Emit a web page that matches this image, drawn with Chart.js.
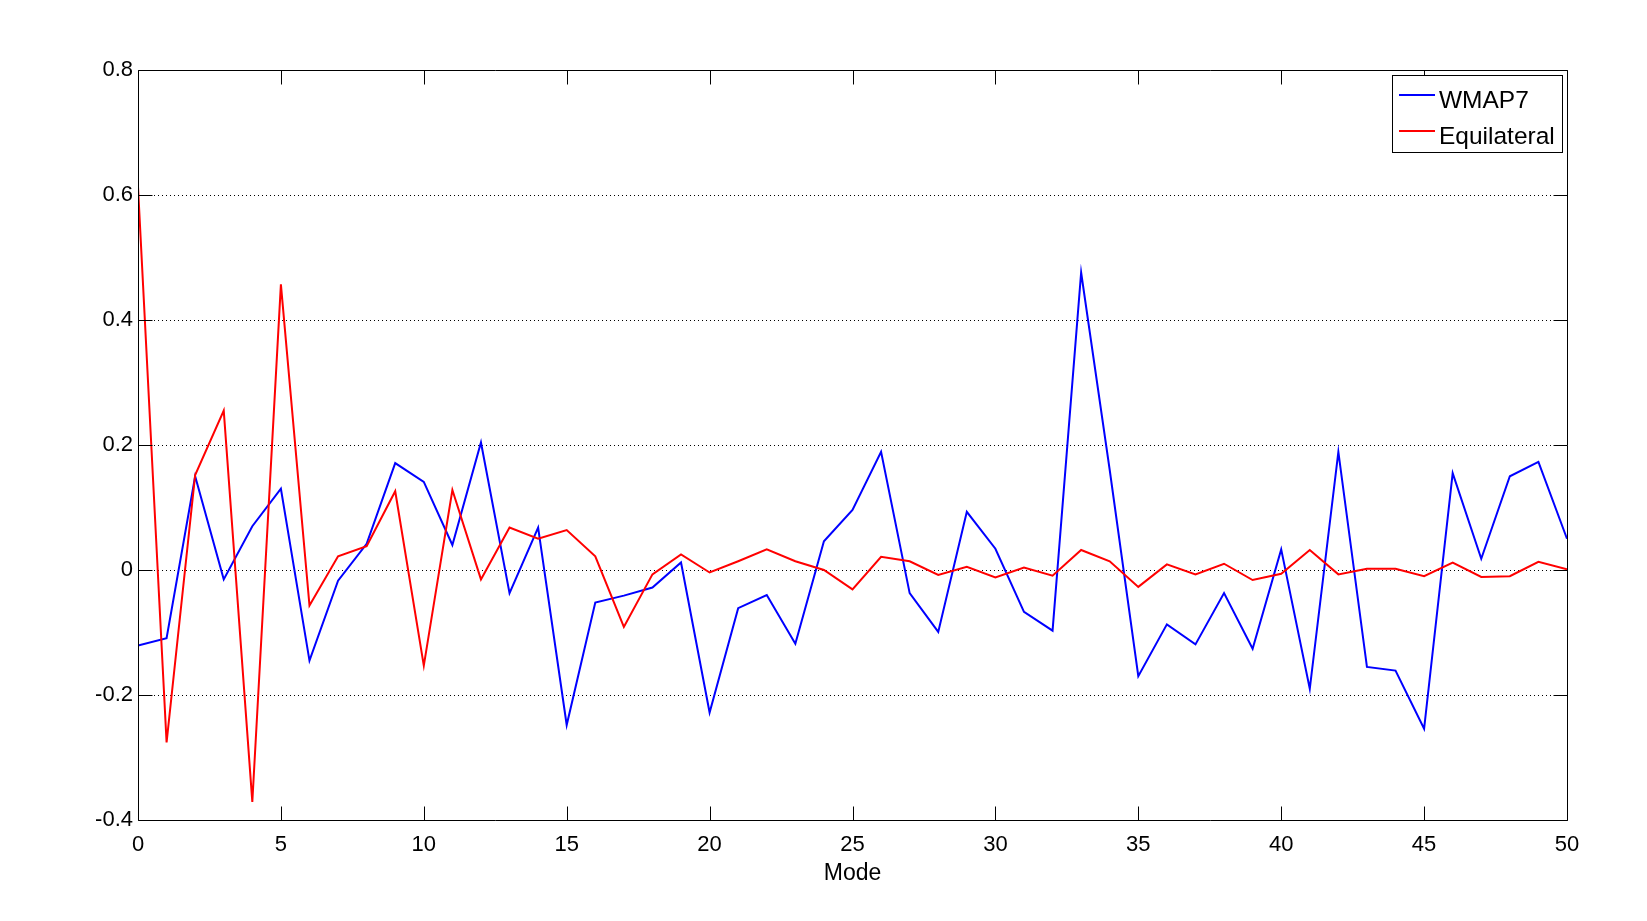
<!DOCTYPE html>
<html>
<head>
<meta charset="utf-8">
<script src="https://cdn.jsdelivr.net/npm/chart.js@4.4.1/dist/chart.umd.min.js"></script>
<style>
  html, body { margin: 0; padding: 0; background: #ffffff; }
  #wrap { width: 1647px; height: 921px; }
</style>
</head>
<body>
<div id="wrap"><canvas id="c" width="1647" height="921"></canvas></div>
<script>
const modes = [0,1,2,3,4,5,6,7,8,9,10,11,12,13,14,15,16,17,18,19,20,21,22,23,24,25,26,27,28,29,30,31,32,33,34,35,36,37,38,39,40,41,42,43,44,45,46,47,48,49,50];
const wmap7 = [-0.121, -0.109, 0.150, -0.015, 0.070, 0.130, -0.145, -0.017, 0.042, 0.171, 0.141, 0.040, 0.204, -0.037, 0.068,
               -0.248, -0.052, -0.041, -0.028, 0.012, -0.228, -0.061, -0.040, -0.118, 0.046, 0.096, 0.189, -0.037, -0.099, 0.093,
               0.034, -0.067, -0.097, 0.476, 0.160, -0.170, -0.087, -0.119, -0.037, -0.126, 0.033, -0.190, 0.189, -0.155, -0.161, -0.254,
               0.155, 0.018, 0.150, 0.173, 0.050];
const equilateral = [0.613, -0.276, 0.152, 0.255, -0.371, 0.457, -0.057, 0.022, 0.038, 0.126, -0.153, 0.128, -0.015, 0.068, 0.050,
                     0.064, 0.022, -0.091, -0.007, 0.025, -0.004, 0.014, 0.033, 0.014, 0.000, -0.031, 0.021, 0.014, -0.008, 0.005,
                     -0.012, 0.004, -0.009, 0.032, 0.014, -0.027, 0.009, -0.007, 0.010, -0.016, -0.006, 0.032, -0.007, 0.002, 0.002, -0.010,
                     0.012, -0.011, -0.010, 0.013, 0.001];
const xTicks = [0,5,10,15,20,25,30,35,40,45,50];
const yTicks = [-0.4,-0.2,0,0.2,0.4,0.6,0.8];
const seriesNames = ['WMAP7', 'Equilateral'];
const seriesColors = ['#0000ff', '#ff0000'];
const xTitle = 'Mode';

const FONT = '"Liberation Sans", Arial, Helvetica, sans-serif';

const framePlugin = {
  id: 'matlabFrame',
  afterDatasetsDraw(chart) {
    const {ctx, chartArea: a, scales} = chart;
    const L = Math.round(a.left) + 0.5, R = Math.round(a.right) + 0.5;
    const T = Math.round(a.top) + 0.5, B = Math.round(a.bottom) + 0.5;
    const tl = 14;
    ctx.save();
    ctx.strokeStyle = '#000';
    ctx.lineWidth = 1;
    ctx.setLineDash([]);
    ctx.beginPath();
    ctx.rect(L, T, R - L, B - T);
    for (const v of xTicks) {
      const px = Math.round(scales.x.getPixelForValue(v)) + 0.5;
      ctx.moveTo(px, B); ctx.lineTo(px, B - tl);
      ctx.moveTo(px, T); ctx.lineTo(px, T + tl);
    }
    for (const v of yTicks) {
      const py = Math.round(scales.y.getPixelForValue(v)) + 0.5;
      ctx.moveTo(L, py); ctx.lineTo(L + tl, py);
      ctx.moveTo(R, py); ctx.lineTo(R - tl, py);
    }
    ctx.stroke();

    // legend box
    const bx = 1392.5, by = 75.5, bw = 170, bh = 77;
    ctx.fillStyle = '#fff';
    ctx.fillRect(bx, by, bw, bh);
    ctx.strokeRect(bx, by, bw, bh);
    const rows = [{ly: 95, ty: 108}, {ly: 131, ty: 144}];
    chart.data.datasets.forEach((ds, i) => {
      ctx.strokeStyle = ds.borderColor;
      ctx.lineWidth = 2;
      ctx.beginPath();
      ctx.moveTo(1399, rows[i].ly);
      ctx.lineTo(1435, rows[i].ly);
      ctx.stroke();
      ctx.fillStyle = '#000';
      ctx.font = '24.5px ' + FONT;
      ctx.textAlign = 'left';
      ctx.textBaseline = 'alphabetic';
      ctx.fillText(ds.label, 1439, rows[i].ty);
    });
    ctx.restore();
  }
};

new Chart(document.getElementById('c'), {
  type: 'line',
  data: {
    labels: modes,
    datasets: [
      { label: seriesNames[0], data: modes.map((m, i) => ({x: m, y: wmap7[i]})), borderColor: seriesColors[0], borderWidth: 2, pointRadius: 0, tension: 0, fill: false, order: 1 },
      { label: seriesNames[1], data: modes.map((m, i) => ({x: m, y: equilateral[i]})), borderColor: seriesColors[1], borderWidth: 2, pointRadius: 0, tension: 0, fill: false, order: 0 }
    ]
  },
  options: {
    responsive: false,
    animation: false,
    devicePixelRatio: 1,
    layout: { padding: { left: 0, right: 80, top: 70, bottom: 0 } },
    plugins: { legend: { display: false }, tooltip: { enabled: false } },
    scales: {
      x: {
        type: 'linear',
        min: 0, max: 50,
        afterFit(s) { s.height = 101; },
        afterBuildTicks(s) { s.ticks = xTicks.map(v => ({value: v})); },
        grid: { display: false, drawTicks: false },
        border: { display: false },
        ticks: { color: '#000', font: { family: FONT, size: 22 }, padding: 12, maxRotation: 0, autoSkip: false },
        title: { display: true, text: xTitle, color: '#000', font: { family: FONT, size: 23 }, padding: { top: 0, bottom: 34 } }
      },
      y: {
        type: 'linear',
        min: -0.4, max: 0.8,
        afterFit(s) { s.width = 138; },
        afterBuildTicks(s) { s.ticks = yTicks.map(v => ({value: v})); },
        grid: {
          drawTicks: false,
          lineWidth: 1,
          color: (ctx) => (ctx.tick && (Math.abs(ctx.tick.value - 0.8) < 1e-9 || Math.abs(ctx.tick.value + 0.4) < 1e-9)) ? 'rgba(0,0,0,0)' : '#000'
        },
        border: { display: false, dash: [1, 3] },
        ticks: {
          color: '#000', font: { family: FONT, size: 22 }, padding: 5,
          callback: (v) => String(Number(Number(v).toFixed(1)))
        }
      }
    }
  },
  plugins: [framePlugin]
});
</script>
</body>
</html>
